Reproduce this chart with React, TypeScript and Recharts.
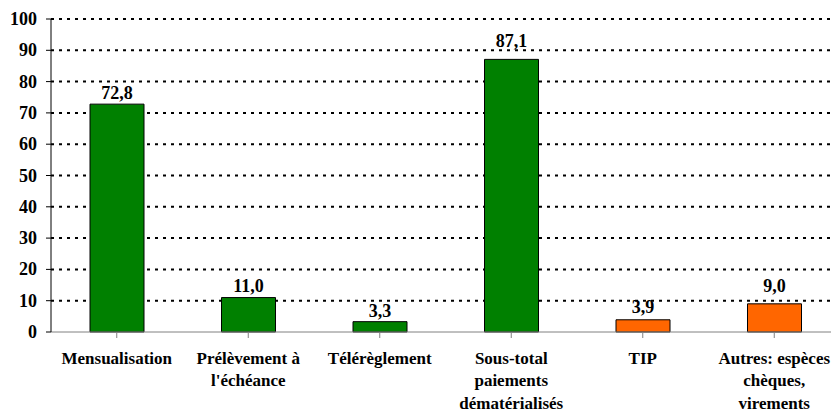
import React from "react";
import { BarChart, Bar, XAxis, YAxis, CartesianGrid, Cell, LabelList } from "recharts";

const categories = [
  "Mensualisation",
  "Prélèvement à\nl'échéance",
  "Télérèglement",
  "Sous-total\npaiements\ndématérialisés",
  "TIP",
  "Autres: espèces\nchèques,\nvirements",
];
const values = [72.8, 11.0, 3.3, 87.1, 3.9, 9.0];
const groups = ["dem", "dem", "dem", "dem", "other", "other"];
const yTicks = [0, 10, 20, 30, 40, 50, 60, 70, 80, 90, 100];
const gridValues = [10, 20, 30, 40, 50, 60, 70, 80, 90, 100];

const COLORS: Record<string, string> = { dem: "#008000", other: "#FF6600" };
const FONT = "'Liberation Serif', 'Times New Roman', serif";
// style: gap between bar top and label baseline, per bar
const LABEL_GAPS = [5, 6, 5, 12, 7, 12];

const data = categories.map((c, i) => ({ name: c, value: values[i], group: groups[i] }));

const XTick = (props: any) => {
  const { x, y, payload } = props;
  const lines = String(payload.value).split("\n");
  return (
    <g transform={`translate(${x},${y})`}>
      <text
        textAnchor="middle"
        style={{ fontFamily: FONT, fontWeight: "bold", fontSize: 17 }}
        fill="#000"
      >
        {lines.map((l, i) => (
          <tspan key={i} x={0} y={23.5 + i * 22.5}>
            {l}
          </tspan>
        ))}
      </text>
    </g>
  );
};

const YTick = (props: any) => {
  const { x, y, payload } = props;
  return (
    <text
      x={x}
      y={y}
      dy={6}
      textAnchor="end"
      style={{ fontFamily: FONT, fontWeight: "bold", fontSize: 18 }}
      fill="#000"
    >
      {payload.value}
    </text>
  );
};

const BarLabel = (props: any) => {
  const { x, y, width, value, index } = props;
  const gap = LABEL_GAPS[index] ?? 5;
  return (
    <text
      x={Number(x) + Number(width) / 2}
      y={Number(y) - gap}
      textAnchor="middle"
      style={{ fontFamily: FONT, fontWeight: "bold", fontSize: 18 }}
      fill="#000"
    >
      {Number(value).toFixed(1).replace(".", ",")}
    </text>
  );
};

export default function App() {
  return (
    <div style={{ position: "absolute", left: 0, top: 0, width: 831, height: 410, overflow: "hidden", background: "#fff", fontFamily: FONT }}>
      <BarChart width={840} height={410} data={data} margin={{ top: 19, right: 0, left: 0, bottom: 0 }} barCategoryGap={0}>
        <CartesianGrid
          vertical={false}
          horizontalValues={gridValues}
          stroke="#000"
          strokeWidth={2}
          strokeDasharray="3 5"
        />
        <XAxis
          dataKey="name"
          height={78}
          interval={0}
          tick={<XTick />}
          tickLine={{ stroke: "#808080" }}
          axisLine={{ stroke: "#808080" }}
          tickSize={6}
          scale="band"
        />
        <YAxis
          width={51}
          domain={[0, 100]}
          ticks={yTicks}
          interval={0}
          tickSize={5}
          tickMargin={9}
          axisLine={{ stroke: "#000" }}
          tickLine={{ stroke: "#000" }}
          tick={<YTick />}
        />
        <Bar dataKey="value" barSize={54} stroke="#000" strokeWidth={1} isAnimationActive={false}>
          {data.map((d, i) => (
            <Cell key={i} fill={COLORS[d.group]} />
          ))}
          <LabelList dataKey="value" content={<BarLabel />} />
        </Bar>
      </BarChart>
    </div>
  );
}
